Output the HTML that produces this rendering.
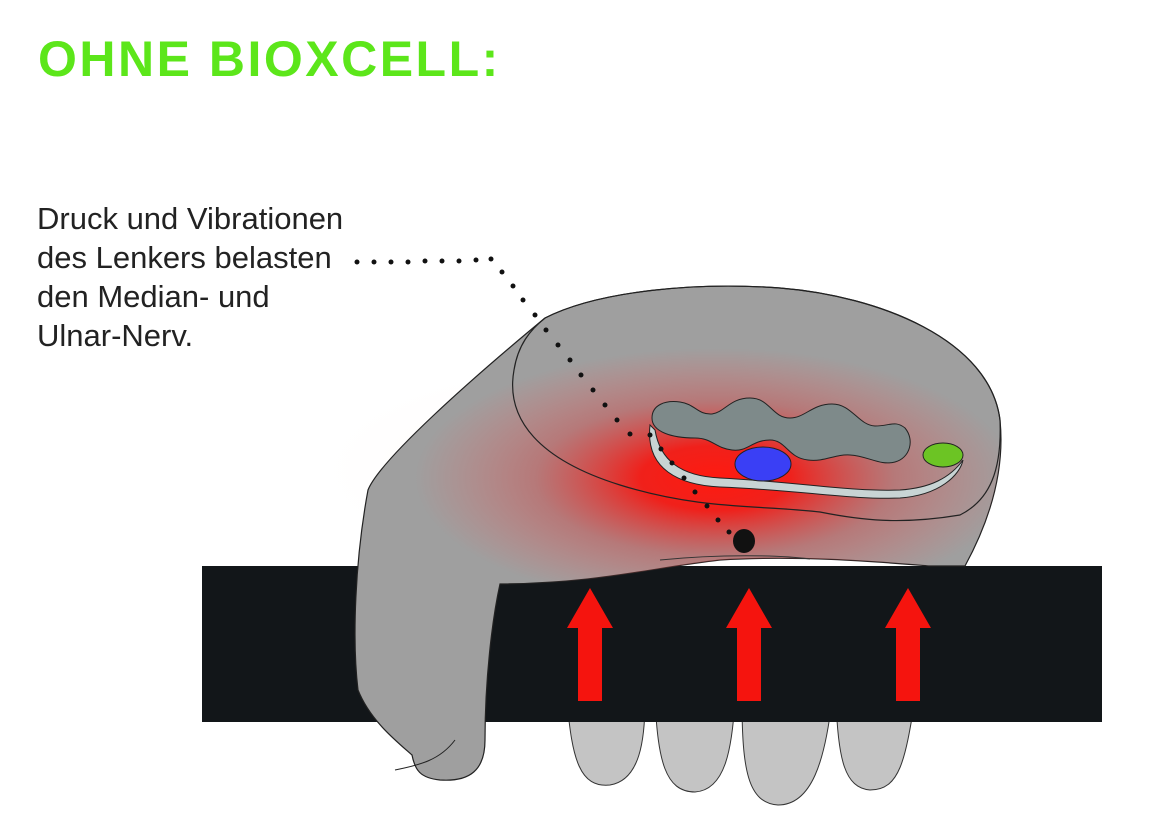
<!DOCTYPE html>
<html><head><meta charset="utf-8"><style>
html,body{margin:0;padding:0;background:#fff;}
body{width:1154px;height:840px;overflow:hidden;position:relative;font-family:"Liberation Sans",sans-serif;}
.t{position:absolute;left:38px;top:30px;font-size:50px;font-weight:bold;color:#5ce61a;letter-spacing:2.5px;}
.d{position:absolute;left:37px;top:199px;font-size:31px;line-height:39px;color:#222;}
</style></head><body>
<div class="t">OHNE BIOXCELL:</div>
<div class="d">Druck und Vibrationen<br>des Lenkers belasten<br>den Median- und<br>Ulnar-Nerv.</div>
<svg width="1154" height="840" style="position:absolute;left:0;top:0">
<defs>
<radialGradient id="g" cx="0" cy="0" r="1" gradientUnits="userSpaceOnUse" gradientTransform="translate(715 478) scale(300 130)">
<stop offset="0" stop-color="#ff1a10" stop-opacity="1"/>
<stop offset="0.25" stop-color="#f41a14" stop-opacity="0.95"/>
<stop offset="0.6" stop-color="#d84040" stop-opacity="0.4"/>
<stop offset="1" stop-color="#ff5050" stop-opacity="0"/>
</radialGradient>
<radialGradient id="g2" cx="0" cy="0" r="1" gradientUnits="userSpaceOnUse" gradientTransform="translate(640 470) scale(340 120)">
<stop offset="0" stop-color="#ffd8d0" stop-opacity="0.6"/>
<stop offset="1" stop-color="#ffffff" stop-opacity="0"/>
</radialGradient>
<clipPath id="hc"><path d="M545,318 C600,290 700,282 780,288 C880,296 990,340 1000,420 C1005,470 990,520 965,566 L930,566 C880,562 800,555 720,560 C650,568 600,583 500,584 C492,620 485,680 485,740 C485,770 470,782 440,780 C420,778 415,770 412,755 C395,740 370,720 358,690 C352,640 355,560 368,490 C380,460 470,380 545,318 Z"/></clipPath>
</defs>
<rect x="280" y="340" width="760" height="226" fill="url(#g2)"/>
<g fill="#c4c4c4" stroke="#333" stroke-width="1">
<path d="M567,700 L645,700 C645,740 640,780 610,785 C580,788 572,760 567,700Z"/>
<path d="M655,700 L735,700 C732,750 725,790 695,792 C665,792 658,760 655,700Z"/>
<path d="M742,700 L832,700 C825,760 812,805 778,805 C748,803 742,770 742,700Z"/>
<path d="M836,700 L915,700 C905,760 900,790 870,790 C845,788 838,760 836,700Z"/>
</g>
<rect x="202" y="566" width="900" height="156" fill="#121619"/>
<path d="M545,318 C600,290 700,282 780,288 C880,296 990,340 1000,420 C1005,470 990,520 965,566 L930,566 C880,562 800,555 720,560 C650,568 600,583 500,584 C492,620 485,680 485,740 C485,770 470,782 440,780 C420,778 415,770 412,755 C395,740 370,720 358,690 C352,640 355,560 368,490 C380,460 470,380 545,318 Z" fill="#9f9f9f" stroke="#222" stroke-width="1.2"/>
<g clip-path="url(#hc)"><rect x="300" y="280" width="720" height="320" fill="url(#g)"/></g>
<path d="M660,560 C720,554 780,555 810,559" fill="none" stroke="#333" stroke-width="1"/>
<path d="M545,318 C600,290 700,282 780,288 C880,296 990,340 1000,420 C1002,470 990,500 960,515 C900,525 860,520 820,512 C760,505 700,510 620,485 C540,460 505,420 514,370 C518,345 530,330 545,318Z" fill="none" stroke="#222" stroke-width="1.2"/>
<path d="M395,770 C420,765 440,760 455,740" fill="none" stroke="#222" stroke-width="1"/>
<path d="M650,425 C645,470 680,485 720,487 C800,490 850,500 900,498 C940,495 960,475 963,460 C950,478 930,488 900,490 C850,492 800,482 720,478 C680,476 660,460 655,430Z" fill="#c8d4d4" stroke="#222" stroke-width="1"/>
<path d="M652,418 C652,405 665,400 680,402 C695,404 698,415 712,414 C725,412 730,398 750,398 C770,398 772,418 790,418 C805,418 812,404 832,404 C852,404 858,425 875,426 C890,426 895,420 905,428 C915,440 910,458 895,462 C880,466 868,456 850,455 C835,454 825,462 808,460 C788,458 786,440 770,440 C752,440 748,452 732,450 C715,448 712,438 695,438 C672,438 652,432 652,418Z" fill="#7e8a8a" stroke="#222" stroke-width="1"/>
<ellipse cx="763" cy="464" rx="28" ry="17" fill="#3a3ff5" stroke="#222" stroke-width="1"/>
<ellipse cx="943" cy="455" rx="20" ry="12" fill="#6cc424" stroke="#222" stroke-width="1"/>
<g fill="#111">
<circle cx="357" cy="262" r="2.5"/><circle cx="374" cy="262" r="2.5"/><circle cx="391" cy="262" r="2.5"/><circle cx="408" cy="262" r="2.5"/><circle cx="425" cy="261" r="2.5"/><circle cx="442" cy="261" r="2.5"/><circle cx="459" cy="261" r="2.5"/><circle cx="476" cy="260" r="2.5"/><circle cx="491" cy="259" r="2.5"/>
<circle cx="502" cy="272" r="2.5"/><circle cx="513" cy="286" r="2.5"/><circle cx="523" cy="300" r="2.5"/><circle cx="535" cy="315" r="2.5"/><circle cx="546" cy="330" r="2.5"/><circle cx="558" cy="345" r="2.5"/><circle cx="570" cy="360" r="2.5"/><circle cx="581" cy="375" r="2.5"/><circle cx="593" cy="390" r="2.5"/><circle cx="605" cy="405" r="2.5"/><circle cx="617" cy="420" r="2.5"/><circle cx="630" cy="434" r="2.5"/><circle cx="650" cy="435" r="2.5"/><circle cx="661" cy="449" r="2.5"/><circle cx="672" cy="463" r="2.5"/><circle cx="684" cy="478" r="2.5"/><circle cx="695" cy="492" r="2.5"/><circle cx="707" cy="506" r="2.5"/><circle cx="718" cy="520" r="2.5"/><circle cx="729" cy="532" r="2.5"/>
<ellipse cx="744" cy="541" rx="11" ry="12"/>
</g>
<g fill="#f5140e">
<path d="M567,628 L590,588 L613,628 L602,628 L602,701 L578,701 L578,628Z"/>
<path d="M726,628 L749,588 L772,628 L761,628 L761,701 L737,701 L737,628Z"/>
<path d="M885,628 L908,588 L931,628 L920,628 L920,701 L896,701 L896,628Z"/>
</g>
</svg>
</body></html>
